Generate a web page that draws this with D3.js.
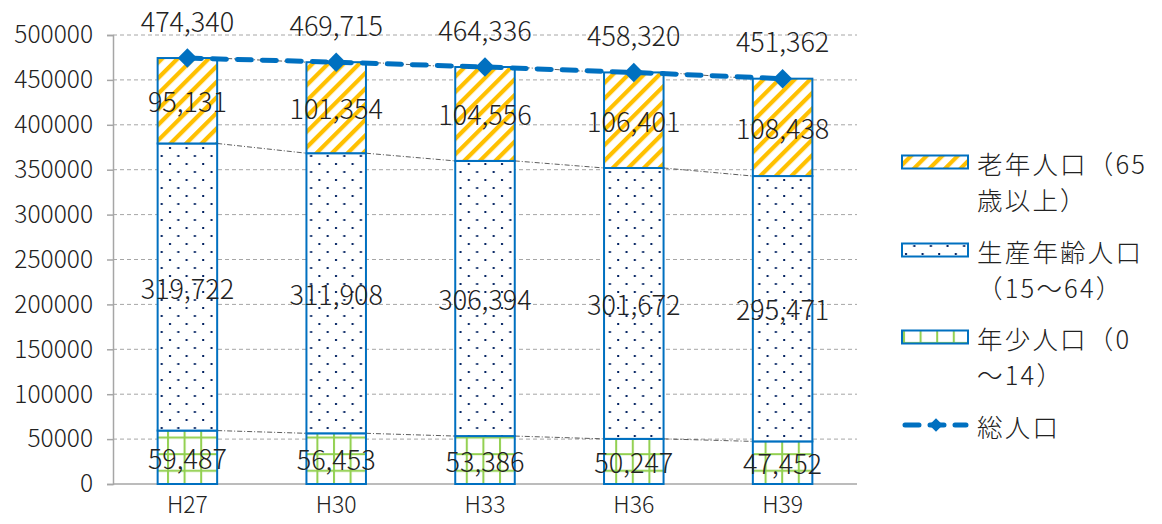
<!DOCTYPE html>
<html lang='ja'>
<head>
  <meta charset='UTF-8'>
  <title>人口推計</title>
  <style type='text/css'>
    body {
      margin: 0;
      background: #fff;
      font-family: 'Noto Sans CJK JP', 'Noto Sans', sans-serif;
    }
    text {
      font-family: 'Noto Sans CJK JP', sans-serif;
      font-weight: 300;
    }
    .y-axis text, .x-axis text {
      fill: #222;
    }
  </style>
  <script type='text/javascript' src='https://d3js.org/d3.v7.min.js'></script>
</head>
<body>
  <script type='text/javascript'>
    const categories = ['H27', 'H30', 'H33', 'H36', 'H39']
    const elderly = [95131, 101354, 104556, 106401, 108438]
    const working = [319722, 311908, 306394, 301672, 295471]
    const youth = [59487, 56453, 53386, 50247, 47452]
    const total = [474340, 469715, 464336, 458320, 451362]
    const yTicks = [0, 50000, 100000, 150000, 200000, 250000, 300000, 350000, 400000, 450000, 500000]
    const legendLabels = [
      ['老年人口（65', '歳以上）'],
      ['生産年齢人口', '（15～64）'],
      ['年少人口（0', '～14）'],
      ['総人口']
    ]

    const blue = '#0070C0'
    const width = 1162
    const height = 524
    const margin = {top: 35, right: 305, bottom: 40, left: 113}

    const svg = d3.select('body').append('svg')
      .attr('width', width)
      .attr('height', height)

    // patterns
    const defs = svg.append('defs')
    const stripes = defs.append('pattern')
      .attr('id', 'stripes')
      .attr('patternUnits', 'userSpaceOnUse')
      .attr('width', 11).attr('height', 11)
      .attr('patternTransform', 'rotate(45)')
    stripes.append('rect').attr('width', 11).attr('height', 11).attr('fill', '#fff')
    stripes.append('rect').attr('width', 4.2).attr('height', 11).attr('fill', '#FFC000')

    const dots = defs.append('pattern')
      .attr('id', 'dots')
      .attr('patternUnits', 'userSpaceOnUse')
      .attr('width', 16.6).attr('height', 16)
    dots.append('rect').attr('width', 16.6).attr('height', 16).attr('fill', '#fff')
    dots.append('rect').attr('x', 3).attr('y', 3).attr('width', 2).attr('height', 2).attr('fill', '#002060')
    dots.append('rect').attr('x', 11.3).attr('y', 11).attr('width', 2).attr('height', 2).attr('fill', '#002060')

    const grid = defs.append('pattern')
      .attr('id', 'grid')
      .attr('patternUnits', 'userSpaceOnUse')
      .attr('width', 16.6).attr('height', 16.6)
    grid.append('rect').attr('width', 16.6).attr('height', 16.6).attr('fill', '#fff')
    grid.append('rect').attr('x', 1).attr('width', 2).attr('height', 16.6).attr('fill', '#92D050')
    grid.append('rect').attr('y', 5).attr('width', 16.6).attr('height', 2).attr('fill', '#92D050')

    const xScale = d3.scaleBand()
      .domain(categories)
      .range([margin.left, width - margin.right])
    const yScale = d3.scaleLinear()
      .domain([0, 500000])
      .range([height - margin.bottom, margin.top])
    const barW = xScale.bandwidth() * 0.4
    const cx = c => xScale(c) + xScale.bandwidth() / 2

    // gridlines
    svg.append('g')
      .selectAll('line')
      .data(yTicks.filter(t => t > 0))
      .enter().append('line')
      .attr('x1', margin.left)
      .attr('x2', width - margin.right)
      .attr('y1', d => yScale(d))
      .attr('y2', d => yScale(d))
      .attr('stroke', '#a6a6a6')
      .attr('stroke-width', 1)
      .attr('stroke-dasharray', '4,3')

    const yAxis = d3.axisLeft(yScale).tickValues(yTicks).tickSize(6).tickPadding(14).tickFormat(d => d)
    const yg = svg.append('g')
      .attr('class', 'y-axis')
      .attr('transform', `translate(${margin.left},0)`)
      .call(yAxis)
    yg.selectAll('path, line').attr('stroke', '#a6a6a6').attr('stroke-width', 1.5)
    yg.selectAll('text').attr('font-size', 24.5)

    // baseline
    svg.append('line')
      .attr('x1', margin.left).attr('x2', width - margin.right)
      .attr('y1', yScale(0)).attr('y2', yScale(0))
      .attr('stroke', '#a6a6a6').attr('stroke-width', 1.5)

    const xAxis = d3.axisBottom(xScale).tickSize(0).tickPadding(13)
    const xg = svg.append('g')
      .attr('class', 'x-axis')
      .attr('transform', `translate(0,${yScale(0)})`)
      .call(xAxis)
    xg.select('path').remove()
    xg.selectAll('text').attr('font-size', 23)

    // stacked segments
    const series = [
      {values: youth, fill: 'url(#grid)'},
      {values: working, fill: 'url(#dots)'},
      {values: elderly, fill: 'url(#stripes)'}
    ]
    const stacks = []
    series.forEach((s, si) => {
      s.segments = categories.map((c, i) => {
        const base = si === 0 ? 0 : stacks[si - 1][i][1]
        return [base, base + s.values[i], c, s.values[i]]
      })
      stacks.push(s.segments)
    })

    // series lines
    stacks.forEach(seg => {
      svg.append('g')
        .selectAll('line')
        .data(seg.slice(0, -1))
        .enter().append('line')
        .attr('x1', (d) => cx(d[2]) + barW / 2)
        .attr('x2', (d, i) => cx(seg[i + 1][2]) - barW / 2)
        .attr('y1', d => yScale(d[1]))
        .attr('y2', (d, i) => yScale(seg[i + 1][1]))
        .attr('stroke', '#333')
        .attr('stroke-width', 0.8)
        .attr('stroke-dasharray', '5,2,1,2')
    })

    series.forEach(s => {
      svg.append('g')
        .selectAll('rect')
        .data(s.segments)
        .enter().append('rect')
        .attr('x', d => cx(d[2]) - barW / 2)
        .attr('y', d => yScale(d[1]))
        .attr('width', barW)
        .attr('height', d => yScale(d[0]) - yScale(d[1]))
        .attr('fill', s.fill)
        .attr('stroke', blue)
        .attr('stroke-width', 2)
    })

    // total line
    const line = d3.line()
      .x((d, i) => cx(categories[i]))
      .y(d => yScale(d))
    svg.append('path')
      .datum(total)
      .attr('d', line)
      .attr('fill', 'none')
      .attr('stroke', blue)
      .attr('stroke-width', 5)
      .attr('stroke-linecap', 'round')
      .attr('stroke-dasharray', '14,11')

    const diamond = d3.symbol().type(d3.symbolDiamond2).size(240)
    svg.append('g')
      .selectAll('path')
      .data(total)
      .enter().append('path')
      .attr('d', diamond)
      .attr('transform', (d, i) => `translate(${cx(categories[i])},${yScale(d)})`)
      .attr('fill', blue)

    // labels
    const fmt = d3.format(',')
    series.forEach(s => {
      svg.append('g')
        .selectAll('text')
        .data(s.segments)
        .enter().append('text')
        .attr('x', d => cx(d[2]))
        .attr('y', d => (yScale(d[0]) + yScale(d[1])) / 2)
        .attr('text-anchor', 'middle')
        .attr('dominant-baseline', 'central')
        .attr('font-size', 27)
        .attr('fill', '#222')
        .text(d => fmt(d[3]))
    })
    svg.append('g')
      .selectAll('text')
      .data(total)
      .enter().append('text')
      .attr('x', (d, i) => cx(categories[i]))
      .attr('y', d => yScale(d) - 38)
      .attr('text-anchor', 'middle')
      .attr('dominant-baseline', 'central')
      .attr('font-size', 27)
      .attr('fill', '#222')
      .text(d => fmt(d))

    // legend
    const legendY = [162, 250, 337, 425]
    const legendFills = ['url(#stripes)', 'url(#dots)', 'url(#grid)']
    const legend = svg.append('g')
    legendLabels.forEach((lines, i) => {
      const g = legend.append('g').attr('transform', `translate(902,${legendY[i]})`)
      if (i < 3) {
        g.append('rect')
          .attr('x', 0).attr('y', -6.5)
          .attr('width', 66).attr('height', 13)
          .attr('fill', legendFills[i])
          .attr('stroke', blue)
          .attr('stroke-width', 2)
      } else {
        g.append('line')
          .attr('x1', 3).attr('x2', 64).attr('y1', 0).attr('y2', 0)
          .attr('stroke', blue).attr('stroke-width', 5)
          .attr('stroke-linecap', 'round')
          .attr('stroke-dasharray', '14,11')
        g.append('path')
          .attr('d', diamond)
          .attr('transform', 'translate(34,0) scale(0.7)')
          .attr('fill', blue)
      }
      lines.forEach((t, j) => {
        g.append('text')
          .attr('x', 75)
          .attr('y', j * 36)
          .attr('dominant-baseline', 'central')
          .attr('font-size', 25.5)
          .attr('letter-spacing', 2.2)
          .attr('fill', '#222')
          .text(t)
      })
    })
  </script>
</body>
</html>
